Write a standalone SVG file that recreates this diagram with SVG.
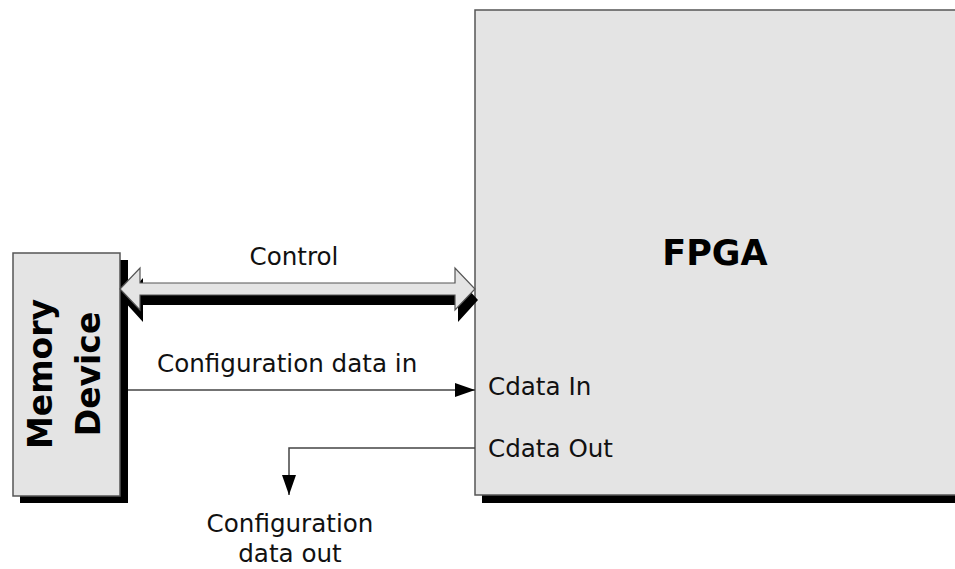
<svg xmlns="http://www.w3.org/2000/svg" width="955" height="569" viewBox="0 0 955 569">
<style>
.box{fill:#e4e4e4;stroke:#555;stroke-width:1.5}
.shadow{fill:#000}
.lbl{font-family:"DejaVu Sans","Liberation Sans",sans-serif;font-size:24.6px;fill:#111}
.big{font-family:"DejaVu Sans","Liberation Sans",sans-serif;font-weight:bold;fill:#000}
.wire{stroke:#444;stroke-width:1.5;fill:none}
</style>
<defs>
<marker id="ah" viewBox="0 0 20 14" refX="20" refY="7" markerWidth="20" markerHeight="14" markerUnits="userSpaceOnUse" orient="auto">
<path d="M0,0 L20,7 L0,14 Z" fill="#000"/>
</marker>
</defs>
<rect width="955" height="569" fill="#fff"/>
<g id="memory">
<rect class="shadow" x="20" y="260" width="108" height="243"/>
<rect class="box" x="13" y="253" width="107" height="243"/>
<text class="big" font-size="33" transform="translate(52,374) rotate(-90)" text-anchor="middle">Memory</text>
<text class="big" font-size="33" transform="translate(100,374) rotate(-90)" text-anchor="middle">Device</text>
</g>
<g id="fpga">
<rect class="shadow" x="482" y="17" width="490" height="486"/>
<rect class="box" x="475" y="10" width="490" height="485"/>
<text class="big" font-size="35" x="715" y="265" text-anchor="middle">FPGA</text>
<text class="lbl" x="488" y="395">Cdata In</text>
<text class="lbl" x="488" y="457">Cdata Out</text>
</g>
<g id="connectors">
<polygon class="shadow" points="123,300 143,278 143,293 458,293 458,278 478,300 458,322 458,305 143,305 143,322"/>
<polygon fill="#e4e4e4" stroke="#555" stroke-width="1.2" points="120,289 140,268 140,283 455,283 455,268 475,289 455,310 455,295 140,295 140,310"/>
<text class="lbl" x="294" y="265" text-anchor="middle">Control</text>
<line class="wire" x1="128" y1="390" x2="475" y2="390" marker-end="url(#ah)"/>
<text class="lbl" x="157" y="372">Configuration data in</text>
<polyline class="wire" points="475,448 289,448 289,495" marker-end="url(#ah)"/>
<text class="lbl" x="290" y="532" text-anchor="middle">Configuration</text>
<text class="lbl" x="290" y="562" text-anchor="middle">data out</text>
</g>
</svg>
